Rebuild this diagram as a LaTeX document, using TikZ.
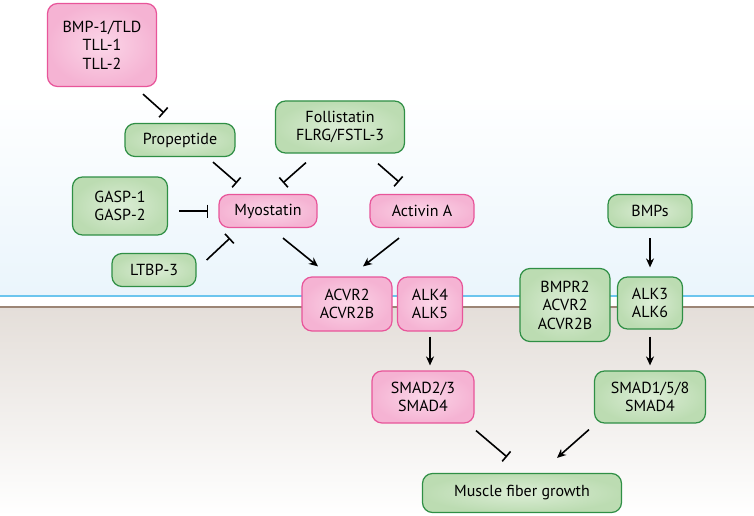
\documentclass[tikz,border=0pt]{standalone}
\usepackage{fontspec}
\setmainfont{PT Sans}
\usetikzlibrary{arrows.meta}
\definecolor{pinkedge}{HTML}{E8559A}
\definecolor{pinkin}{HTML}{FBD6E8}
\definecolor{pinkout}{HTML}{F5B3D3}
\definecolor{greenedge}{HTML}{2F8F45}
\definecolor{greenin}{HTML}{DCEDD6}
\definecolor{greenout}{HTML}{BCDCB2}
\definecolor{skyblue}{HTML}{EAF5FC}
\definecolor{membblue}{HTML}{6CC5EE}
\definecolor{membbrown}{HTML}{9C8575}
\definecolor{cytotop}{HTML}{E4DED9}
\tikzset{
  box/.style={rounded corners=10pt,line width=1.2pt,align=center,inner sep=2pt,
    font=\fontsize{16}{18.5}\selectfont},
  pinkbox/.style={box,draw=pinkedge,inner color=pinkin,outer color=pinkout},
  greenbox/.style={box,draw=greenedge,inner color=greenin,outer color=greenout},
  act/.style={line width=1.6pt,-{Stealth[length=9pt,width=8pt]}},
  inh/.style={line width=1.6pt,-{Bar[width=13pt,line width=1.6pt]}}
}

\begin{document}
\begin{tikzpicture}[x=1pt,y=-1pt]
\useasboundingbox (0,0) rectangle (754,516);
% background: outside, membrane, inside
\fill[white] (0,0) rectangle (754,95);
\shade[top color=white,bottom color=skyblue] (0,95) rectangle (754,296);
\fill[white] (0,296) rectangle (754,307);
\shade[top color=cytotop,bottom color=white] (0,307) rectangle (754,516);
\draw[membblue,line width=2pt] (0,296) -- (754,296);
\draw[membbrown,line width=2pt] (0,307) -- (754,307);

\node[pinkbox,minimum width=109pt,minimum height=83pt] (bmp) at (102,45) {BMP-1/TLD\\TLL-1\\TLL-2};
\node[greenbox,minimum width=110pt,minimum height=33pt] (prop) at (180,140) {Propeptide};
\node[greenbox,minimum width=129pt,minimum height=52pt] (fol) at (340,127) {Follistatin\\FLRG/FSTL-3};
\node[greenbox,minimum width=95pt,minimum height=58pt] (gasp) at (120,206) {GASP-1\\GASP-2};
\node[pinkbox,minimum width=98pt,minimum height=33pt] (myo) at (268,211) {Myostatin};
\node[pinkbox,minimum width=104pt,minimum height=33pt] (act) at (422,211) {Activin A};
\node[greenbox,minimum width=84pt,minimum height=33pt] (bmps) at (650,211) {BMPs};
\node[greenbox,minimum width=84pt,minimum height=33pt] (ltbp) at (154,270) {LTBP-3};
\node[pinkbox,minimum width=90pt,minimum height=54pt] (acvr) at (347,304) {ACVR2\\ACVR2B};
\node[pinkbox,minimum width=65pt,minimum height=54pt] (alkf) at (430,304) {ALK4\\ALK5};
\node[greenbox,minimum width=90pt,minimum height=73pt] (bmpr) at (565,305) {BMPR2\\ACVR2\\ACVR2B};
\node[greenbox,minimum width=65pt,minimum height=52pt] (alkt) at (650,303) {ALK3\\ALK6};
\node[pinkbox,minimum width=102pt,minimum height=52pt] (smadp) at (423,397) {SMAD2/3\\SMAD4};
\node[greenbox,minimum width=111pt,minimum height=52pt] (smadg) at (650,397) {SMAD1/5/8\\SMAD4};
\node[greenbox,minimum width=199pt,minimum height=39pt] (mus) at (522,493) {Muscle fiber growth};

%\draw (bmp) -- (prop);
\draw[inh] ([xshift=41pt,yshift=-7pt]bmp.south) -- ([xshift=-16pt,yshift=10pt]prop.north);
\draw[inh] ([xshift=33pt,yshift=-5pt]prop.south) -- ([xshift=-31pt,yshift=11pt]myo.north);
\draw[inh] ([xshift=-34pt,yshift=-9pt]fol.south) -- ([xshift=15pt,yshift=11pt]myo.north);
\draw[inh] ([xshift=38pt,yshift=-10pt]fol.south) -- ([xshift=-23pt,yshift=12pt]act.north);
\draw[inh,shorten <=11pt,shorten >=10pt] (gasp.east |- myo.west) -- (myo.west);
\draw[inh] ([xshift=10pt,yshift=10pt]ltbp.east) -- ([xshift=-38pt,yshift=-10pt]myo.south);
\draw[act] ([xshift=15pt,yshift=-10pt]myo.south) -- ([xshift=-29pt,yshift=10pt]acvr.north);
\draw[act] ([xshift=-23pt,yshift=-10pt]act.south) -- ([xshift=16pt,yshift=10pt]acvr.north);
\draw[act,shorten <=10pt,shorten >=9pt] (bmps.south) -- (alkt.north);
\draw[act,shorten <=5pt,shorten >=5pt] (alkf.south) -- (smadp.north -| alkf.south);
\draw[act,shorten <=7pt,shorten >=5pt] (alkt.south) -- (smadg.north);
\draw[inh] ([xshift=53pt,yshift=-7pt]smadp.south) -- ([xshift=-15pt,yshift=16pt]mus.north);
\draw[act] ([xshift=-61pt,yshift=-6pt]smadg.south) -- ([xshift=35pt,yshift=15pt]mus.north);
\end{tikzpicture}
\end{document}
